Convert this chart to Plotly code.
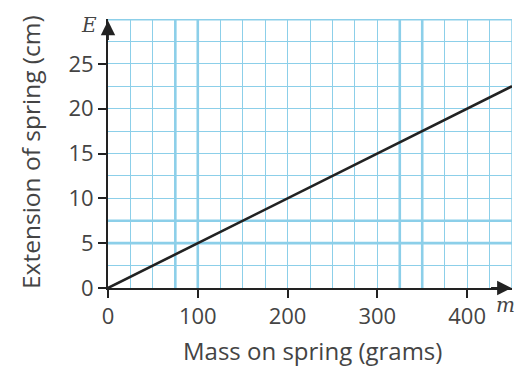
import plotly.graph_objects as go

# Spring extension against load: E = m / 20
mass_g = [0, 450]
extension_cm = [0, 22.5]

x_ticks = [0, 100, 200, 300, 400]
y_ticks = [0, 5, 10, 15, 20, 25]

# Heavier grid lines on the graph paper
bold_x = [75, 100, 325, 350]
bold_y = [5, 7.5]

grid_blue = "#8ccfe9"
ink = "#222222"
text_grey = "#444444"
font_family = "Open Sans, Noto Sans, sans-serif"

fig = go.Figure()
fig.add_trace(go.Scatter(
    x=mass_g, y=extension_cm, mode="lines",
    line=dict(color=ink, width=2.6), showlegend=False, hoverinfo="skip",
    cliponaxis=False,
))

shapes = []
for xv in bold_x:
    shapes.append(dict(type="line", xref="x", yref="y", x0=xv, x1=xv, y0=0, y1=30,
                       line=dict(color=grid_blue, width=2.6), layer="below"))
for yv in bold_y:
    shapes.append(dict(type="line", xref="x", yref="y", x0=0, x1=450, y0=yv, y1=yv,
                       line=dict(color=grid_blue, width=2.6), layer="below"))
# top and right edges of the grid
shapes.append(dict(type="line", xref="x", yref="y", x0=0, x1=450, y0=30, y1=30,
                   line=dict(color=grid_blue, width=3), layer="below"))
shapes.append(dict(type="line", xref="x", yref="y", x0=450, x1=450, y0=0, y1=30,
                   line=dict(color=grid_blue, width=1.5), layer="below"))

W, H = 518, 367
L, R, T, B = 108, 6, 19, 79
pw, ph = W - L - R, H - T - B


def px_to_paper(px, py):
    return (px - L) / pw, (H - B - py) / ph


def label(text, px, py, size, family, angle=0):
    x, y = px_to_paper(px, py)
    return dict(x=x, y=y, xref="paper", yref="paper", xanchor="center", yanchor="middle",
                text=text, showarrow=False, textangle=angle,
                font=dict(family=family, size=size, color=text_grey))


annotations = [
    # axis arrows
    dict(x=0, y=29.8, ax=0, ay=27.5, xref="x", yref="y", axref="x", ayref="y",
         text="", showarrow=True, arrowhead=2, arrowsize=1.6, arrowwidth=1.8,
         arrowcolor=ink),
    dict(x=449.5, y=0, ax=425, ay=0, xref="x", yref="y", axref="x", ayref="y",
         text="", showarrow=True, arrowhead=2, arrowsize=1.6, arrowwidth=1.8,
         arrowcolor=ink),
    # variable letters
    label("<i>E</i>", 89, 25, 20, "DejaVu Serif, serif"),
    label("<i>m</i>", 505, 305, 20, "DejaVu Serif, serif"),
    # axis titles
    label("Mass on spring (grams)", 312, 350, 24, font_family),
    label("Extension of spring (cm)", 30, 152, 24.5, font_family, angle=-90),
]

fig.update_layout(
    width=W, height=H,
    margin=dict(l=L, r=R, t=T, b=B),
    paper_bgcolor="white", plot_bgcolor="white",
    font=dict(family=font_family, size=22, color=text_grey),
    shapes=shapes, annotations=annotations,
    xaxis=dict(
        range=[0, 450], tickvals=x_ticks, ticktext=[str(v) for v in x_ticks],
        showgrid=True, gridcolor=grid_blue, gridwidth=1,
        minor=dict(dtick=25, tick0=0, showgrid=True, gridcolor=grid_blue, gridwidth=1),
        ticks="outside", ticklen=8, tickwidth=2, tickcolor=ink,
        showline=True, linecolor=ink, linewidth=2, zeroline=False,
        tickfont=dict(size=22, color=text_grey), fixedrange=True,
    ),
    yaxis=dict(
        range=[0, 30], tickvals=y_ticks, ticktext=[str(v) for v in y_ticks],
        showgrid=True, gridcolor=grid_blue, gridwidth=1,
        minor=dict(dtick=2.5, tick0=0, showgrid=True, gridcolor=grid_blue, gridwidth=1),
        ticks="outside", ticklen=8, tickwidth=2, tickcolor=ink,
        showline=True, linecolor=ink, linewidth=2, zeroline=False,
        tickfont=dict(size=22, color=text_grey), fixedrange=True,
    ),
)

fig.write_html("out.html")
